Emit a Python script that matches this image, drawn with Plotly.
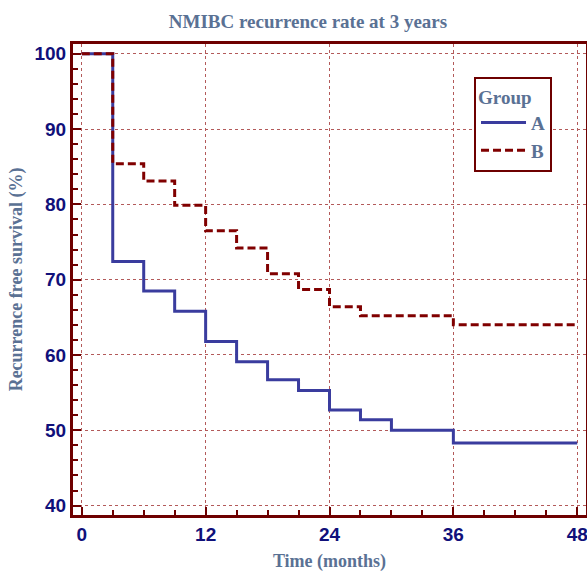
import plotly.graph_objects as go

time_a = [0, 3, 6, 9, 12, 15, 18, 21, 24, 27, 30, 36, 48]
surv_a = [100, 72.4, 68.5, 65.8, 61.8, 59.1, 56.7, 55.3, 52.7, 51.4, 50.0, 48.3, 48.3]
time_b = [0, 3, 6, 9, 12, 15, 18, 21, 24, 27, 36, 48]
surv_b = [100, 85.4, 83.1, 79.9, 76.5, 74.2, 70.8, 68.7, 66.4, 65.2, 64.0, 64.0]
x_ticks = [0, 12, 24, 36, 48]
y_ticks = [40, 50, 60, 70, 80, 90, 100]

maroon = "#6e0000"
slate = "#5a7194"
navy = "#10107a"
serif = "Liberation Serif, Times New Roman, serif"
sans = "Liberation Sans, Arial, sans-serif"

fig = go.Figure()
fig.add_trace(go.Scatter(x=time_a, y=surv_a, mode="lines", name="A",
                         line=dict(color="#3a3c9e", width=3, shape="hv")))
fig.add_trace(go.Scatter(x=time_b, y=surv_b, mode="lines", name="B",
                         line=dict(color="#800000", width=3, shape="hv", dash="8px,4px")))

axis_common = dict(
    showline=True, mirror=True, linecolor=maroon, linewidth=3,
    showgrid=True, gridcolor="#b35a5a", gridwidth=1, griddash="dot",
    ticks="inside", ticklen=8, tickwidth=2, tickcolor=maroon,
    tickfont=dict(family=sans, size=19, color=navy, weight="bold"),
    zeroline=False, automargin=False, ticklabeloverflow="allow",
)

fig.update_layout(
    width=587, height=572,
    margin=dict(l=73, r=1, t=44, b=57),
    paper_bgcolor="white", plot_bgcolor="white",
    title=dict(text="NMIBC recurrence rate at 3 years", x=0.5247, xanchor="center",
               y=0.962, yanchor="middle",
               font=dict(family=serif, size=19, color=slate, weight="bold")),
    xaxis=dict(**axis_common, range=[-0.85, 48.85], tickvals=x_ticks,
               minor=dict(dtick=3, tick0=0, ticks="inside", ticklen=5, tickwidth=2,
                          tickcolor=maroon, showgrid=False),
               title=dict(text="Time (months)", standoff=13,
                          font=dict(family=serif, size=18, color=slate, weight="bold"))),
    yaxis=dict(**axis_common, range=[38.75, 101.3], tickvals=y_ticks,
               minor=dict(dtick=2, tick0=40, ticks="inside", ticklen=5, tickwidth=2,
                          tickcolor=maroon, showgrid=False),
               title=dict(text="Recurrence free survival (%)", standoff=8,
                          font=dict(family=serif, size=18, color=slate, weight="bold"))),
    legend=dict(
        title=dict(text="Group", font=dict(family=serif, size=19, color=slate, weight="bold")),
        font=dict(family=serif, size=19, color=slate, weight="bold"),
        x=0.7817, y=0.93, xanchor="left", yanchor="top",
        bordercolor=maroon, borderwidth=2, bgcolor="white",
        tracegroupgap=0, itemwidth=45,
    ),
    showlegend=True,
)

fig.write_html("out.html", config={"displayModeBar": False},
               post_script="document.body.style.margin='0px';document.body.style.overflow='hidden';")
